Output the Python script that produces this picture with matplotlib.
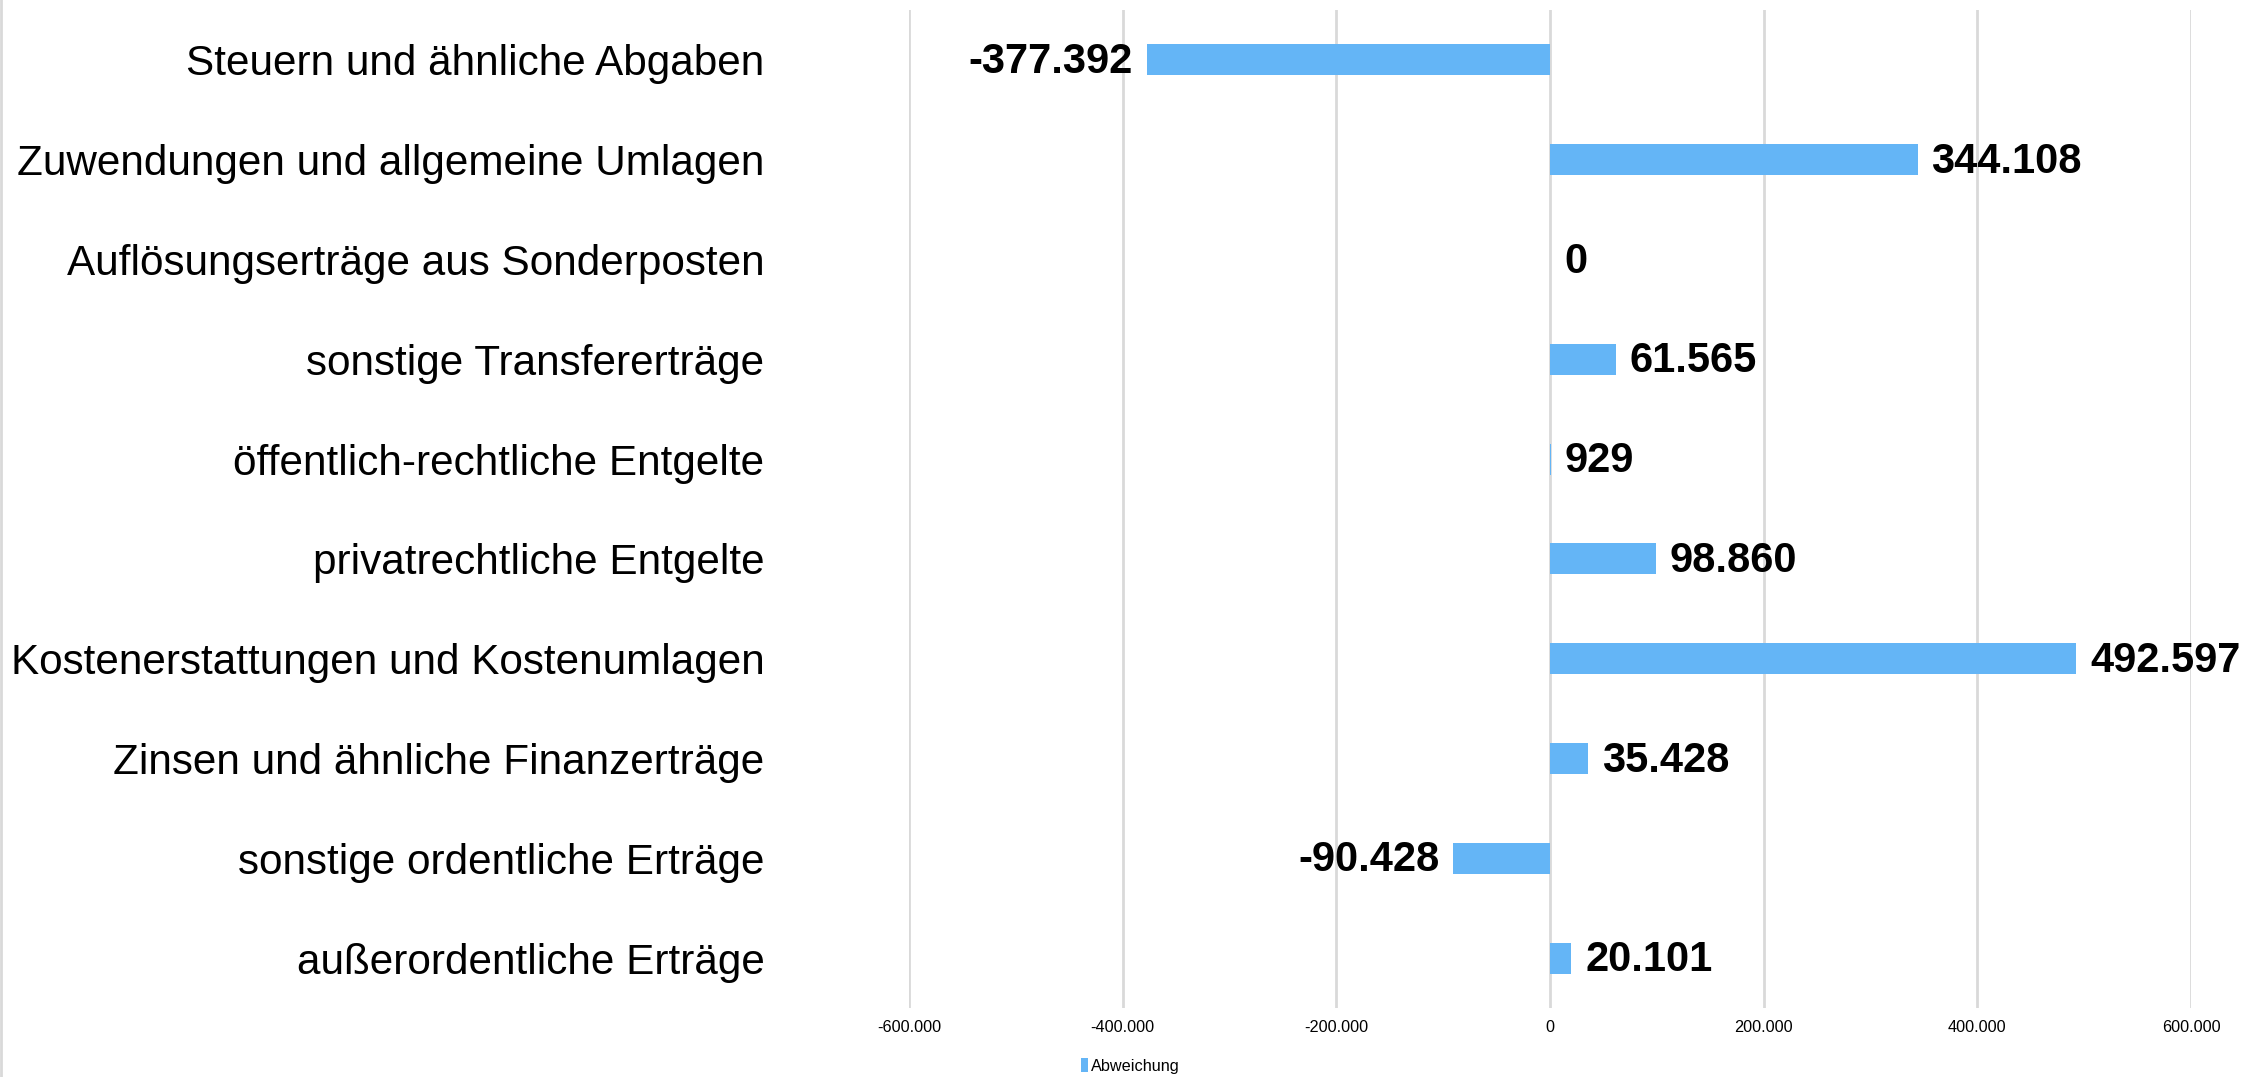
import matplotlib
matplotlib.use("Agg")
from matplotlib import pyplot as plt
from matplotlib.lines import Line2D

categories = [
    "Steuern und ähnliche Abgaben",
    "Zuwendungen und allgemeine Umlagen",
    "Auflösungserträge aus Sonderposten",
    "sonstige Transfererträge",
    "öffentlich-rechtliche Entgelte",
    "privatrechtliche Entgelte",
    "Kostenerstattungen und Kostenumlagen",
    "Zinsen und ähnliche Finanzerträge",
    "sonstige ordentliche Erträge",
    "außerordentliche Erträge",
]
abweichung = [-377392, 344108, 0, 61565, 929, 98860, 492597, 35428, -90428, 20101]
x_ticks = [-600000, -400000, -200000, 0, 200000, 400000, 600000]

bar_color = '#64B5F6'
grid_color = '#d9d9d9'


def de_fmt(v):
    return f"{v:,.0f}".replace(",", ".")


plt.rcParams['font.family'] = ['Liberation Sans', 'DejaVu Sans']

fig = plt.figure(figsize=(22.41, 10.77), dpi=100)
ax = fig.add_axes([909 / 2241, 1 - 1008 / 1077, (2191 - 909) / 2241, (1008 - 10) / 1077])

ypos = list(range(len(categories)))
bars = ax.barh(ypos, abweichung, height=0.31, color=bar_color, label='Abweichung', zorder=2)
labels = ax.bar_label(bars, labels=[de_fmt(v) for v in abweichung], padding=10,
                      fontsize=30, fontweight='bold', color='black')
# nudge value labels slightly down so the digits sit centred on the bars
for t in labels:
    x, y = t.xyann
    t.xyann = (x, y - 1.5)

ax.set_ylim(len(categories) - 0.5, -0.5)
ax.set_yticks(ypos)
ax.set_yticklabels(categories, fontsize=30.4)
ax.set_xlim(-600000, 600000)
ax.set_xticks(x_ticks)
ax.set_xticklabels([de_fmt(v) for v in x_ticks], fontsize=11.7)
ax.tick_params(axis='y', length=0, pad=104)
ax.tick_params(axis='x', length=0, pad=9)

ax.grid(True, axis='x', color=grid_color, linewidth=2, zorder=0)
for s in ax.spines.values():
    s.set_visible(False)

fig.legend(handles=[bars], labels=['Abweichung'], loc='center',
           bbox_to_anchor=(1130 / 2241, 1 - 1066 / 1077), frameon=False,
           fontsize=11.7, handlelength=0.45, handleheight=0.9, handletextpad=0.15)

# thin frame line on the left edge
fig.add_artist(Line2D([0.0004, 0.0004], [0, 1], color=grid_color, linewidth=2,
                      transform=fig.transFigure))

fig.savefig("out.png", dpi=100)
